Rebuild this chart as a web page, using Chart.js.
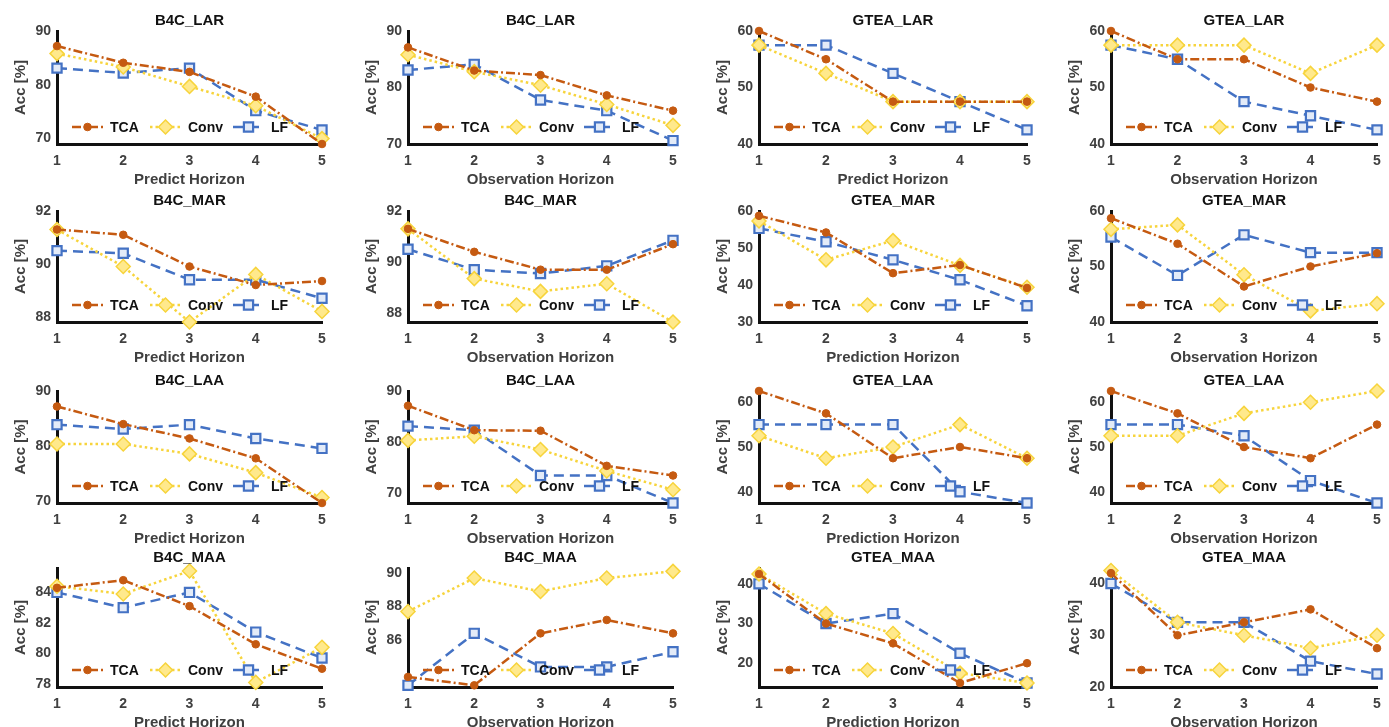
<!DOCTYPE html>
<html>
<head>
<meta charset="utf-8">
<script src="https://cdn.jsdelivr.net/npm/chart.js@4.4.1/dist/chart.umd.min.js"></script>
<style>
  body { margin: 0; width: 1389px; height: 727px; background: #fff; overflow: hidden; position: relative; }
  canvas { position: absolute; }
</style>
</head>
<body>
<script>
// x categories
const horizons = ['1', '2', '3', '4', '5'];
const seriesNames = ['TCA', 'Conv', 'LF'];

// panels, row by row
const panelTitles = [
  'B4C_LAR', 'B4C_LAR', 'GTEA_LAR', 'GTEA_LAR',
  'B4C_MAR', 'B4C_MAR', 'GTEA_MAR', 'GTEA_MAR',
  'B4C_LAA', 'B4C_LAA', 'GTEA_LAA', 'GTEA_LAA',
  'B4C_MAA', 'B4C_MAA', 'GTEA_MAA', 'GTEA_MAA'
];
const xTitles = [
  'Predict Horizon', 'Observation Horizon', 'Predict Horizon', 'Observation Horizon',
  'Predict Horizon', 'Observation Horizon', 'Prediction Horizon', 'Observation Horizon',
  'Predict Horizon', 'Observation Horizon', 'Prediction Horizon', 'Observation Horizon',
  'Predict Horizon', 'Observation Horizon', 'Prediction Horizon', 'Observation Horizon'
];

const tcaValues = [
  [87.2, 84.1, 82.4, 77.8, 69.0], [87.1, 83.0, 82.2, 78.6, 75.9], [60, 55, 47.5, 47.5, 47.5], [60, 55, 55, 50, 47.5],
  [91.3, 91.1, 89.9, 89.2, 89.35], [91.3, 90.4, 89.7, 89.7, 90.7], [58.7, 54.2, 43.2, 45.4, 39.2], [58.7, 54.1, 46.4, 50.0, 52.4],
  [87.2, 84.0, 81.4, 77.8, 69.7], [87.1, 82.3, 82.2, 75.3, 73.4], [62.5, 57.5, 47.5, 50, 47.5], [62.5, 57.5, 50, 47.5, 55],
  [84.3, 84.8, 83.1, 80.6, 79.0], [83.8, 83.3, 86.4, 87.2, 86.4], [42.5, 30, 25, 15, 20], [42, 30, 32.5, 35, 27.5]
];
const convValues = [
  [85.8, 83.3, 79.7, 76.1, 70.0], [85.8, 82.8, 80.4, 77.0, 73.3], [57.5, 52.5, 47.5, 47.5, 47.5], [57.5, 57.5, 57.5, 52.5, 57.5],
  [91.3, 89.9, 87.8, 89.6, 88.2], [91.3, 89.35, 88.85, 89.15, 87.65], [57.3, 46.8, 52.0, 45.3, 39.4], [56.7, 57.5, 48.5, 42.0, 43.3],
  [80.4, 80.4, 78.6, 75.2, 70.7], [80.3, 81.1, 78.5, 74.3, 70.6], [52.5, 47.5, 50, 55, 47.5], [52.5, 52.5, 57.5, 60, 62.5],
  [84.4, 83.9, 85.4, 78.1, 80.4], [87.7, 89.7, 88.9, 89.7, 90.1], [42.5, 32.5, 27.5, 17.5, 15], [42.5, 32.5, 30, 27.5, 30]
];
const lfValues = [
  [83.1, 82.2, 83.1, 75.2, 71.6], [83.1, 84.1, 77.8, 75.9, 70.6], [57.5, 57.5, 52.5, 47.5, 42.5], [57.5, 55, 47.5, 45, 42.5],
  [90.5, 90.4, 89.4, 89.4, 88.7], [90.5, 89.7, 89.55, 89.85, 90.85], [55.3, 51.7, 46.8, 41.4, 34.4], [55.3, 48.4, 55.7, 52.5, 52.5],
  [83.9, 83.1, 83.9, 81.4, 79.6], [83.1, 82.3, 73.4, 73.4, 68.0], [55, 55, 55, 40, 37.5], [55, 55, 52.5, 42.5, 37.5],
  [84.0, 83.0, 84.0, 81.4, 79.7], [83.3, 86.4, 84.4, 84.4, 85.3], [40, 30, 32.5, 22.5, 15], [40, 32.5, 32.5, 25, 22.5]
];

// y axis ranges and tick labels
const yMins = [69, 70, 40, 40, 87.8, 87.65, 30, 40, 69.7, 68, 37.5, 37.5, 77.8, 83.2, 14, 20];
const yMaxs = [90, 90, 60, 60, 92, 92, 60, 60, 90, 90, 62.5, 62.5, 85.6, 90.3, 44, 43];
const yTickValues = [
  [70, 80, 90], [70, 80, 90], [40, 50, 60], [40, 50, 60],
  [88, 90, 92], [88, 90, 92], [30, 40, 50, 60], [40, 50, 60],
  [70, 80, 90], [70, 80, 90], [40, 50, 60], [40, 50, 60],
  [78, 80, 82, 84], [86, 88, 90], [20, 30, 40], [20, 30, 40]
];

// layout of the grid (page pixels)
const colAxisX = [57, 408, 759, 1111];
const colPlotW = [265, 265, 268, 266];
const rowTopY = [31, 211, 391, 568];
const rowBottomY = [144, 322, 503, 687];
const Y_AXIS_W = 57, TOP_SPACE = 31, X_AXIS_H = 46, RIGHT_PAD = 14;

const fontFamily = '"Liberation Sans", Arial, sans-serif';

const styles = [
  { color: '#C55A11', dash: [9, 3, 2, 3], point: 'circle', radius: 3.8, fill: '#C55A11', pBorder: 1 },
  { color: '#F7D43C', dash: [2.5, 3], point: 'rectRot', radius: 7, fill: '#FFE98C', pBorder: 1.5 },
  { color: '#4472C4', dash: [10, 6], point: 'rect', radius: 6.5, fill: '#E3EBF8', pBorder: 2.2 }
];

function drawMarker(ctx, st, x, y) {
  ctx.save();
  ctx.fillStyle = st.fill;
  ctx.strokeStyle = st.color;
  ctx.lineWidth = st.pBorder;
  ctx.setLineDash([]);
  ctx.beginPath();
  if (st.point === 'circle') {
    ctx.arc(x, y, st.radius, 0, Math.PI * 2);
  } else if (st.point === 'rectRot') {
    ctx.moveTo(x - st.radius, y); ctx.lineTo(x, y - st.radius);
    ctx.lineTo(x + st.radius, y); ctx.lineTo(x, y + st.radius); ctx.closePath();
  } else {
    const s = st.radius * Math.SQRT1_2;
    ctx.rect(x - s, y - s, 2 * s, 2 * s);
  }
  ctx.fill();
  ctx.stroke();
  ctx.restore();
}

// panel title centred over the plot area (not over the whole canvas)
const plotTitle = {
  id: 'plotTitle',
  afterDraw(chart, args, opts) {
    const { ctx, chartArea } = chart;
    ctx.save();
    ctx.fillStyle = '#111';
    ctx.font = 'bold 15px ' + fontFamily;
    ctx.textAlign = 'center';
    ctx.textBaseline = 'middle';
    ctx.fillText(opts.text, (chartArea.left + chartArea.right) / 2, chartArea.top - 10);
    ctx.restore();
  }
};

// legend sits inside the plot, near the bottom
const insideLegend = {
  id: 'insideLegend',
  afterDatasetsDraw(chart) {
    const { ctx, chartArea } = chart;
    const y = chartArea.bottom - 17;
    const starts = [15, 93, 176];
    seriesNames.forEach((name, k) => {
      const st = styles[k];
      const x0 = chartArea.left + starts[k];
      ctx.save();
      ctx.strokeStyle = st.color;
      ctx.lineWidth = 2.5;
      ctx.setLineDash(st.dash);
      ctx.beginPath();
      ctx.moveTo(x0, y);
      ctx.lineTo(x0 + 31, y);
      ctx.stroke();
      ctx.restore();
      drawMarker(ctx, st, x0 + 15.5, y);
      ctx.save();
      ctx.fillStyle = '#111';
      ctx.font = 'bold 14px ' + fontFamily;
      ctx.textBaseline = 'middle';
      ctx.fillText(name, x0 + 38, y + 1);
      ctx.restore();
    });
  }
};

for (let i = 0; i < 16; i++) {
  const r = Math.floor(i / 4), c = i % 4;
  const plotH = rowBottomY[r] - rowTopY[r];
  const canvas = document.createElement('canvas');
  const w = Y_AXIS_W + colPlotW[c] + RIGHT_PAD;
  const h = TOP_SPACE + plotH + X_AXIS_H;
  canvas.width = w; canvas.height = h;
  canvas.style.left = (colAxisX[c] - Y_AXIS_W) + 'px';
  canvas.style.top = (rowTopY[r] - TOP_SPACE) + 'px';
  canvas.style.width = w + 'px'; canvas.style.height = h + 'px';
  document.body.appendChild(canvas);

  const seriesData = [tcaValues[i], convValues[i], lfValues[i]];
  const datasets = seriesNames.map((name, k) => ({
    label: name,
    data: seriesData[k],
    borderColor: styles[k].color,
    borderWidth: 2.5,
    borderDash: styles[k].dash,
    pointStyle: styles[k].point,
    pointRadius: styles[k].radius,
    pointBackgroundColor: styles[k].fill,
    pointBorderColor: styles[k].color,
    pointBorderWidth: styles[k].pBorder,
    tension: 0,
    clip: false
  }));

  const ticksList = yTickValues[i];
  new Chart(canvas, {
    type: 'line',
    data: { labels: horizons, datasets },
    options: {
      responsive: false,
      animation: false,
      devicePixelRatio: 1,
      layout: { padding: { left: 0, right: RIGHT_PAD, top: TOP_SPACE, bottom: 0 } },
      plugins: {
        legend: { display: false },
        tooltip: { enabled: false },
        title: { display: false },
        plotTitle: { text: panelTitles[i] }
      },
      scales: {
        x: {
          type: 'category',
          offset: false,
          grid: { display: false, drawTicks: false },
          border: { display: true, color: '#111', width: 3 },
          ticks: { color: '#404040', padding: 9, font: { family: fontFamily, size: 14, weight: 'bold' }, maxRotation: 0 },
          title: { display: true, text: xTitles[i], color: '#404040', padding: { top: 0, bottom: 1 },
                   font: { family: fontFamily, size: 15, weight: 'bold' } },
          afterFit(scale) { scale.height = X_AXIS_H; }
        },
        y: {
          min: yMins[i],
          max: yMaxs[i],
          grid: { display: false, drawTicks: false },
          border: { display: true, color: '#111', width: 3 },
          ticks: { color: '#404040', padding: 6, font: { family: fontFamily, size: 14, weight: 'bold' } },
          afterBuildTicks(scale) { scale.ticks = ticksList.map(v => ({ value: v })); },
          title: { display: true, text: 'Acc [%]', color: '#404040', padding: { top: 12, bottom: 0 },
                   font: { family: fontFamily, size: 15, weight: 'bold' } },
          afterFit(scale) { scale.width = Y_AXIS_W; }
        }
      }
    },
    plugins: [plotTitle, insideLegend]
  });
}
</script>
</body>
</html>
